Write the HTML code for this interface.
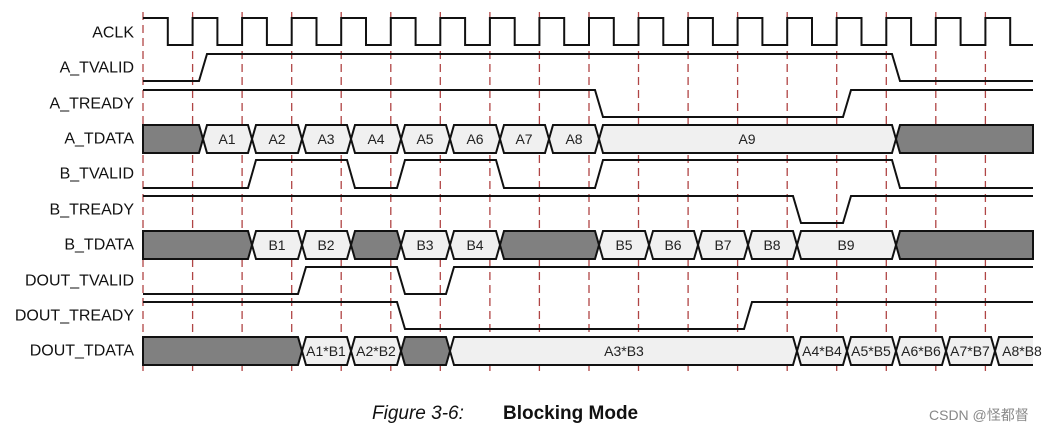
<!DOCTYPE html>
<html><head><meta charset="utf-8"><style>
html,body{margin:0;padding:0;background:#fff;width:1044px;height:434px;overflow:hidden}
svg{display:block}
.l{font-family:"Liberation Sans",sans-serif;font-size:16px;fill:#111;text-anchor:end;dominant-baseline:central}
.c{font-family:"Liberation Sans",sans-serif;font-size:14px;fill:#222;text-anchor:middle;dominant-baseline:central}
.w{fill:none;stroke:#111;stroke-width:2}
.g{fill:#808080;stroke:#111;stroke-width:2}
.b{fill:#f0f0f0;stroke:#111;stroke-width:2}
.d{stroke:#b04545;stroke-width:1.3;stroke-dasharray:8 5}
</style></head><body>
<svg width="1044" height="434" viewBox="0 0 1044 434">
<g class="d">
<line x1="143" y1="12" x2="143" y2="372"/><line x1="192.6" y1="12" x2="192.6" y2="372"/><line x1="242.1" y1="12" x2="242.1" y2="372"/><line x1="291.7" y1="12" x2="291.7" y2="372"/><line x1="341.2" y1="12" x2="341.2" y2="372"/><line x1="390.8" y1="12" x2="390.8" y2="372"/><line x1="440.3" y1="12" x2="440.3" y2="372"/><line x1="489.9" y1="12" x2="489.9" y2="372"/><line x1="539.4" y1="12" x2="539.4" y2="372"/><line x1="589" y1="12" x2="589" y2="372"/><line x1="638.5" y1="12" x2="638.5" y2="372"/><line x1="688.1" y1="12" x2="688.1" y2="372"/><line x1="737.6" y1="12" x2="737.6" y2="372"/><line x1="787.2" y1="12" x2="787.2" y2="372"/><line x1="836.7" y1="12" x2="836.7" y2="372"/><line x1="886.3" y1="12" x2="886.3" y2="372"/><line x1="935.8" y1="12" x2="935.8" y2="372"/><line x1="985.4" y1="12" x2="985.4" y2="372"/>
</g>
<text class="l" x="134" y="33">ACLK</text>
<text class="l" x="134" y="68">A_TVALID</text>
<text class="l" x="134" y="104">A_TREADY</text>
<text class="l" x="134" y="139">A_TDATA</text>
<text class="l" x="134" y="174">B_TVALID</text>
<text class="l" x="134" y="210">B_TREADY</text>
<text class="l" x="134" y="245">B_TDATA</text>
<text class="l" x="134" y="281">DOUT_TVALID</text>
<text class="l" x="134" y="316">DOUT_TREADY</text>
<text class="l" x="134" y="351">DOUT_TDATA</text>

<path class="w" d="M143 18 H167.8 V45 H192.6 V18 H217.4 V45 H242.1 V18 H266.9 V45 H291.7 V18 H316.5 V45 H341.2 V18 H366 V45 H390.8 V18 H415.6 V45 H440.3 V18 H465.1 V45 H489.9 V18 H514.7 V45 H539.4 V18 H564.2 V45 H589 V18 H613.8 V45 H638.5 V18 H663.3 V45 H688.1 V18 H712.9 V45 H737.6 V18 H762.4 V45 H787.2 V18 H812 V45 H836.7 V18 H861.5 V45 H886.3 V18 H911.1 V45 H935.8 V18 H960.6 V45 H985.4 V18 H1010.2 V45 H1033"/>
<path class="w" d="M143 81 H199 L207 54 H892 L900 81 H1033"/>
<path class="w" d="M143 90 H595 L603 117 H843 L851 90 H1033"/>
<path class="w" d="M143 188 H248 L256 160 H347 L355 188 H397 L405 160 H496 L504 188 H595 L603 160 H892 L900 188 H1033"/>
<path class="w" d="M143 196 H793 L801 223 H843 L851 196 H1033"/>
<path class="w" d="M143 294 H298 L306 267 H397 L405 294 H446 L454 267 H1033"/>
<path class="w" d="M143 302 H397 L405 329 H744 L752 302 H1033"/>

<!-- A_TDATA -->
<polygon class="g" points="143,125 199,125 203,139 199,153 143,153"/>
<polygon class="b" points="203,139 207,125 248,125 252,139 248,153 207,153"/>
<polygon class="b" points="252,139 256,125 298,125 302,139 298,153 256,153"/>
<polygon class="b" points="302,139 306,125 347,125 351,139 347,153 306,153"/>
<polygon class="b" points="351,139 355,125 397,125 401,139 397,153 355,153"/>
<polygon class="b" points="401,139 405,125 446,125 450,139 446,153 405,153"/>
<polygon class="b" points="450,139 454,125 496,125 500,139 496,153 454,153"/>
<polygon class="b" points="500,139 504,125 545,125 549,139 545,153 504,153"/>
<polygon class="b" points="549,139 553,125 595,125 599,139 595,153 553,153"/>
<polygon class="b" points="599,139 603,125 892,125 896,139 892,153 603,153"/>
<polygon class="g" points="896,139 900,125 1033,125 1033,153 900,153"/>
<text class="c" x="227" y="139">A1</text><text class="c" x="277" y="139">A2</text><text class="c" x="326" y="139">A3</text><text class="c" x="376" y="139">A4</text><text class="c" x="425" y="139">A5</text><text class="c" x="475" y="139">A6</text><text class="c" x="524" y="139">A7</text><text class="c" x="574" y="139">A8</text><text class="c" x="747" y="139">A9</text>

<!-- B_TDATA -->
<polygon class="g" points="143,231 248,231 252,245 248,259 143,259"/>
<polygon class="b" points="252,245 256,231 298,231 302,245 298,259 256,259"/>
<polygon class="b" points="302,245 306,231 347,231 351,245 347,259 306,259"/>
<polygon class="g" points="351,245 355,231 397,231 401,245 397,259 355,259"/>
<polygon class="b" points="401,245 405,231 446,231 450,245 446,259 405,259"/>
<polygon class="b" points="450,245 454,231 496,231 500,245 496,259 454,259"/>
<polygon class="g" points="500,245 504,231 595,231 599,245 595,259 504,259"/>
<polygon class="b" points="599,245 603,231 645,231 649,245 645,259 603,259"/>
<polygon class="b" points="649,245 653,231 694,231 698,245 694,259 653,259"/>
<polygon class="b" points="698,245 702,231 744,231 748,245 744,259 702,259"/>
<polygon class="b" points="748,245 752,231 793,231 797,245 793,259 752,259"/>
<polygon class="b" points="797,245 801,231 892,231 896,245 892,259 801,259"/>
<polygon class="g" points="896,245 900,231 1033,231 1033,259 900,259"/>
<text class="c" x="277" y="245">B1</text><text class="c" x="326" y="245">B2</text><text class="c" x="425" y="245">B3</text><text class="c" x="475" y="245">B4</text><text class="c" x="624" y="245">B5</text><text class="c" x="673" y="245">B6</text><text class="c" x="723" y="245">B7</text><text class="c" x="772" y="245">B8</text><text class="c" x="846" y="245">B9</text>

<!-- DOUT_TDATA -->
<polygon class="g" points="143,337 298,337 302,351 298,365 143,365"/>
<polygon class="b" points="302,351 306,337 347,337 351,351 347,365 306,365"/>
<polygon class="b" points="351,351 355,337 397,337 401,351 397,365 355,365"/>
<polygon class="g" points="401,351 405,337 446,337 450,351 446,365 405,365"/>
<polygon class="b" points="450,351 454,337 793,337 797,351 793,365 454,365"/>
<polygon class="b" points="797,351 801,337 843,337 847,351 843,365 801,365"/>
<polygon class="b" points="847,351 851,337 892,337 896,351 892,365 851,365"/>
<polygon class="b" points="896,351 900,337 942,337 946,351 942,365 900,365"/>
<polygon class="b" points="946,351 950,337 991,337 995,351 991,365 950,365"/>
<path class="b" d="M1033 337 H999 L995 351 L999 365 H1033"/>
<text class="c" x="326" y="351">A1*B1</text><text class="c" x="376" y="351">A2*B2</text><text class="c" x="624" y="351">A3*B3</text><text class="c" x="822" y="351">A4*B4</text><text class="c" x="871" y="351">A5*B5</text><text class="c" x="921" y="351">A6*B6</text><text class="c" x="970" y="351">A7*B7</text><text class="c" x="1022" y="351">A8*B8</text>

<text x="372" y="419" style="font-family:'Liberation Sans',sans-serif;font-style:italic;font-size:19px;fill:#111">Figure 3-6:</text>
<text x="503" y="419" style="font-family:'Liberation Sans',sans-serif;font-weight:bold;font-size:19px;fill:#111">Blocking Mode</text>
<text x="929" y="420" style="font-family:'Liberation Sans','Noto Sans CJK SC',sans-serif;font-size:14px;fill:#888">CSDN @怪都督</text>
</svg>
</body></html>
